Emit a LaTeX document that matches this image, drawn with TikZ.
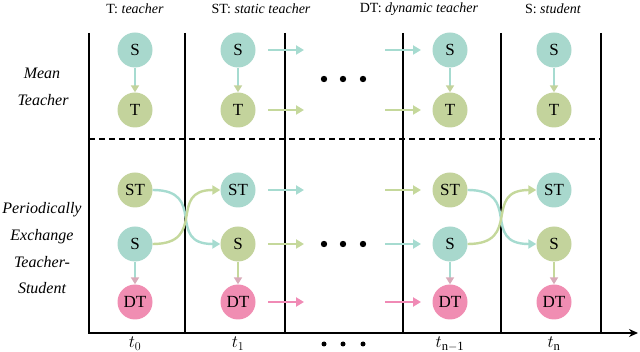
\documentclass[tikz,border=0pt]{standalone}
\usepackage{fontspec}
\setmainfont{Liberation Serif}
\usetikzlibrary{arrows.meta}
\definecolor{tealN}{HTML}{A8D8CD}
\definecolor{greenN}{HTML}{C3D39C}
\definecolor{pinkN}{HTML}{F08DB2}
\definecolor{tealA}{HTML}{A6DBD0}
\definecolor{greenA}{HTML}{C5D89B}
\definecolor{pinkA}{HTML}{F08AB5}
\definecolor{headP}{HTML}{D9AAB9}
\tikzset{
  circ/.style={circle, minimum size=35pt, inner sep=0pt, font=\fontsize{17}{17}\selectfont},
  tn/.style={circ, fill=tealN},
  gn/.style={circ, fill=greenN},
  pn/.style={circ, fill=pinkN},
  arr/.style={line width=2.4pt, -{Triangle[length=8pt,width=9pt]}},
  varr/.style={line width=2.2pt, -{Triangle[length=7pt,width=8pt,color=#1]}},
  vline/.style={line width=1.4pt},
  lbl/.style={font=\fontsize{16}{16}\selectfont\itshape},
  hdr/.style={font=\fontsize{14}{14}\selectfont},
  tlab/.style={font=\fontsize{18}{18}\selectfont, anchor=base, inner sep=0pt},
}
\begin{document}
\begin{tikzpicture}[x=1pt,y=-1pt]
\useasboundingbox (0,0) rectangle (640,352);
% grid
\foreach \x in {89,185,285,403,501,601} \draw[vline] (\x,33) -- (\x,333);
\draw[line width=1.4pt, dash pattern=on 6pt off 4pt] (89,139) -- (601,139);
\draw[line width=2pt, -{Stealth[length=9pt,width=8pt]}] (88,333) -- (638,333);
% headers
\node[hdr] (h1) at (135,9) {T: \textit{teacher}};
\node[hdr] (h2) at (261,9) {ST: \textit{static teacher}};
\node[hdr] (h3) at (419,9) {DT: \textit{dynamic teacher}};
\node[hdr] (h4) at (553,9) {S: \textit{student}};
% left labels
\node[lbl] (m1) at (42,73) {Mean};
\node[lbl] (m2) at (43,100) {Teacher};
\node[lbl] (p1) at (42,210) {Periodically};
\node[lbl] (p2) at (42,237) {Exchange};
\node[lbl] (p3) at (42,262) {Teacher-};
\node[lbl] (p4) at (42,288) {Student};
% top nodes
\node[tn] (sa) at (135,50) {S};  \node[gn] (ta) at (135,110) {T};
\node[tn] (sb) at (238,50) {S};  \node[gn] (tb) at (238,110) {T};
\node[tn] (sc) at (450,50) {S};  \node[gn] (tc) at (450,110) {T};
\node[tn] (sd) at (554,50) {S};  \node[gn] (td) at (554,110) {T};
\foreach \c in {a,b,c,d}
  \draw[varr=greenN, tealA] (s\c) -- (t\c);
% bottom nodes
\node[gn] (sta) at (135,190) {ST}; \node[tn] (ssa) at (135,244) {S}; \node[pn] (dta) at (135,302) {DT};
\node[tn] (stb) at (238,190) {ST}; \node[gn] (ssb) at (238,244) {S}; \node[pn] (dtb) at (238,302) {DT};
\node[gn] (stc) at (450,190) {ST}; \node[tn] (ssc) at (450,244) {S}; \node[pn] (dtc) at (450,302) {DT};
\node[tn] (std) at (554,190) {ST}; \node[gn] (ssd) at (554,244) {S}; \node[pn] (dtd) at (554,302) {DT};
\draw[varr=headP, tealA] (ssa) -- (dta);
\draw[varr=headP, greenA] (ssb) -- (dtb);
\draw[varr=headP, tealA] (ssc) -- (dtc);
\draw[varr=headP, greenA] (ssd) -- (dtd);
% exchange curves
\draw[arr, tealA] (sta.east) .. controls (208,190) and (165,244) .. (ssb.west);
\draw[arr, greenA] (ssa.east) .. controls (208,244) and (167,190) .. (stb.west);
\draw[arr, tealA] (stc.east) .. controls (523,190) and (480,244) .. (ssd.west);
\draw[arr, greenA] (ssc.east) .. controls (523,244) and (482,190) .. (std.west);
% horizontal arrows
\foreach \n/\y in {1/50,2/110,3/190,4/244,5/302} {
  \coordinate (l\n) at (268,\y); \coordinate (r\n) at (304,\y);
  \coordinate (L\n) at (385,\y); \coordinate (R\n) at (421,\y);
}
\draw[arr, tealA] (l1) -- (r1); \draw[arr, tealA] (L1) -- (R1);
\draw[arr, greenA] (l2) -- (r2); \draw[arr, greenA] (L2) -- (R2);
\draw[arr, tealA] (l3) -- (r3); \draw[arr, greenA] (L3) -- (R3);
\draw[arr, greenA] (l4) -- (r4); \draw[arr, tealA] (L4) -- (R4);
\draw[arr, pinkA] (l5) -- (r5); \draw[arr, pinkA] (L5) -- (R5);
% dots
\foreach \x in {324,343,363} {
  \fill (\x,79) circle (3.2pt);
  \fill (\x,244) circle (3.2pt);
  \fill (\x,344) circle (2.5pt);
}
% time labels
\node[tlab] (t0) at (135,348) {$t_0$};
\node[tlab] (t1) at (238,348) {$t_1$};
\node[tlab] (tn1) at (450,348) {$t_{\mathrm{n-1}}$};
\node[tlab] (tn) at (554,348) {$t_{\mathrm{n}}$};
\end{tikzpicture}
\end{document}
